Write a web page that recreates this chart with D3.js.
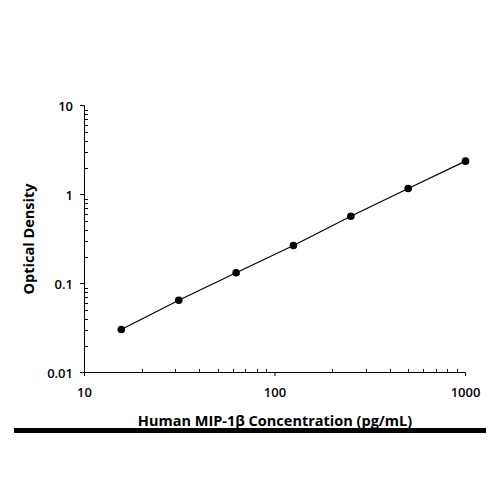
<!DOCTYPE html>
<html><head><meta charset="utf-8">
<script src="https://cdn.jsdelivr.net/npm/d3@7"></script>
<style>body{margin:0;background:#fff}</style>
</head><body>
<svg id="c" width="500" height="500"></svg>
<script>
const concentrations = [15.6, 31.25, 62.5, 125, 250, 500, 1000];
const odValues = [0.0304, 0.0649, 0.132, 0.267, 0.570, 1.168, 2.37];
const xTicks = [10, 100, 1000];
const yTicks = [0.01, 0.1, 1, 10];
const xTitle = "Human MIP-1β Concentration (pg/mL)";
const yTitle = "Optical Density";

const svg = d3.select("#c");
svg.append("rect").attr("width",500).attr("height",500).attr("fill","#fff");
const x = d3.scaleLog().domain([10,1000]).range([84.5,465.5]);
const y = d3.scaleLog().domain([0.01,10]).range([372.5,105.5]);
const font = "'Open Sans', sans-serif";

// minor ticks
const xMinor = [], yMinor = [];
for (let d=10; d<1000; d*=10) for (let k=2;k<=9;k++) xMinor.push(d*k);
for (let d=0.01; d<9; d*=10) for (let k=2;k<=9;k++) yMinor.push(+(d*k).toPrecision(3));

const g = svg.append("g");
g.selectAll(".xm").data(xMinor).join("line")
  .attr("x1",d=>Math.round(x(d))+0.5).attr("x2",d=>Math.round(x(d))+0.5)
  .attr("y1",372.5).attr("y2",369).attr("stroke","#000").attr("stroke-width",1);
g.selectAll(".ym").data(yMinor).join("line")
  .attr("y1",d=>Math.round(y(d))+0.5).attr("y2",d=>Math.round(y(d))+0.5)
  .attr("x1",84.5).attr("x2",88).attr("stroke","#000").attr("stroke-width",1);
g.selectAll(".xM").data(xTicks).join("line")
  .attr("x1",d=>x(d)).attr("x2",d=>x(d))
  .attr("y1",372.5).attr("y2",376).attr("stroke","#000");
g.selectAll(".yM").data(yTicks).join("line")
  .attr("y1",d=>y(d)).attr("y2",d=>y(d))
  .attr("x1",84.5).attr("x2",80).attr("stroke","#000");
// axis lines
g.append("line").attr("x1",84.5).attr("x2",84.5).attr("y1",105.5).attr("y2",372.5).attr("stroke","#000");
g.append("line").attr("x1",84.5).attr("x2",465.5).attr("y1",372.5).attr("y2",372.5).attr("stroke","#000");

// tick labels
g.selectAll(".xl").data(xTicks).join("text")
  .attr("x",d=>x(d)).attr("y",397).attr("text-anchor","middle")
  .attr("font-family",font).attr("font-weight",600).attr("font-size",13)
  .text(d=>d3.format("d")(d));
g.selectAll(".yl").data(yTicks).join("text")
  .attr("x",73).attr("y",d=>y(d)+5).attr("text-anchor","end")
  .attr("font-family",font).attr("font-weight",600).attr("font-size",13)
  .text(d=>String(d));

// titles
svg.append("text").attr("x",275).attr("y",426).attr("text-anchor","middle")
  .attr("font-family",font).attr("font-weight",700).attr("font-size",14.5)
  .text(xTitle);
svg.append("text").attr("transform","translate(34,239) rotate(-90)").attr("text-anchor","middle")
  .attr("font-family",font).attr("font-weight",700).attr("font-size",14.5)
  .text(yTitle);

// bottom bar
svg.append("rect").attr("x",14).attr("y",428).attr("width",472).attr("height",5).attr("fill","#000");

// line + points
const line = d3.line().x((d,i)=>x(concentrations[i])).y(d=>y(d));
svg.append("path").datum(odValues).attr("d",line).attr("fill","none").attr("stroke","#000").attr("stroke-width",1.2);
svg.selectAll(".pt").data(odValues).join("circle")
  .attr("cx",(d,i)=>x(concentrations[i])).attr("cy",d=>y(d)).attr("r",3.8).attr("fill","#000");
</script>
</body></html>
